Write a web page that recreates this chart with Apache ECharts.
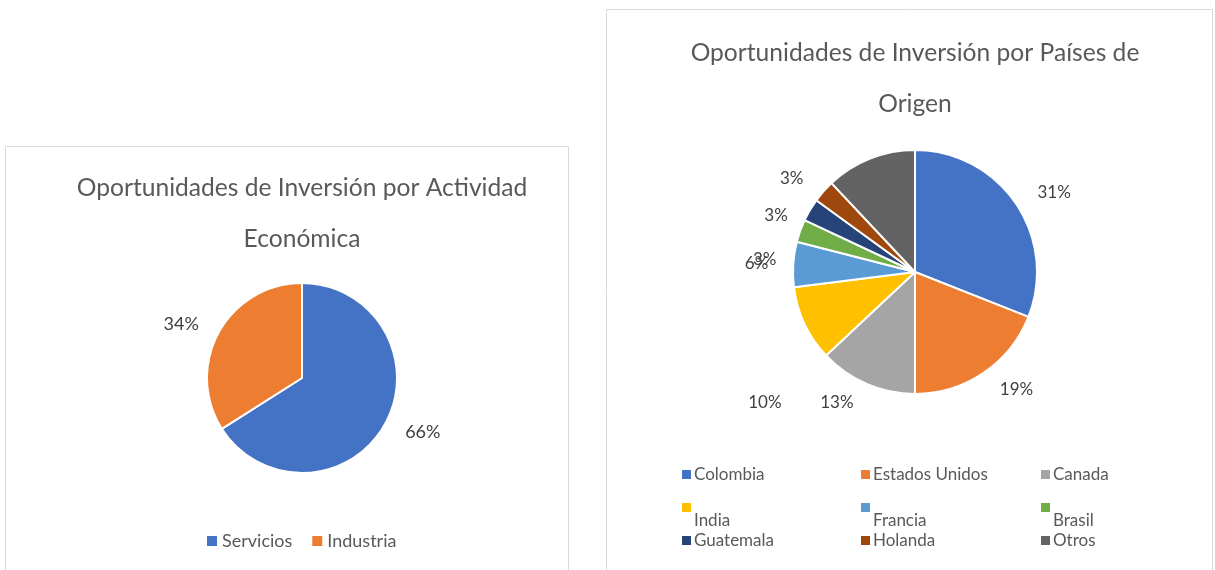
<!DOCTYPE html>
<html>
<head>
<meta charset="utf-8">
<script src="https://cdn.jsdelivr.net/npm/echarts@6/dist/echarts.min.js"></script>
<style>
  html, body { margin: 0; padding: 0; background: #fff; }
  #chart { width: 1215px; height: 570px; }
</style>
</head>
<body>
<div id="chart"></div>
<script>
// datos
const activityNames = ['Servicios', 'Industria']
const activityValues = [66, 34]
const countryNames = ['Colombia', 'Estados Unidos', 'Canada', 'India', 'Francia', 'Brasil', 'Guatemala', 'Holanda', 'Otros']
const countryValues = [31, 19, 13, 10, 6, 3, 3, 3, 12]
const hiddenLabels = ['Otros']

const palette = ['#4472C4', '#ED7D31', '#A5A5A5', '#FFC000', '#5B9BD5', '#70AD47', '#264478', '#9E480E', '#636363']
const FONT = 'Lato, "Open Sans", sans-serif'
const textGrey = '#595959'

// Excel movió algunas etiquetas para que no se pisen
const labelShift = { India: 70, Brasil: 36, Guatemala: 16 }

const chart = echarts.init(document.getElementById('chart'))

// leyenda de países en rejilla 3x3 (la fila del medio lleva el texto más abajo que el cuadrito)
const colX = [677, 856, 1036]
const rowY = [461, 498, 527]
const countryLegends = countryNames.map((name, i) => {
  const row = Math.floor(i / 3)
  return {
    data: [name],
    left: colX[i % 3],
    top: rowY[row],
    icon: 'rect',
    itemWidth: 9,
    itemHeight: 9,
    itemGap: 0,
    selectedMode: false,
    itemStyle: { borderWidth: 0 },
    formatter: n => '{t|' + n + '}',
    textStyle: {
      rich: {
        t: {
          fontFamily: FONT,
          fontSize: 17,
          color: textGrey,
          padding: row === 1 ? [26, 0, 0, -2] : [0, 0, 0, -2]
        }
      }
    }
  }
})

const option = {
  animation: false,
  graphic: [
    { type: 'rect', shape: { x: 5.5, y: 146.5, width: 563, height: 440 }, style: { fill: 'none', stroke: '#d9d9d9', lineWidth: 1 } },
    { type: 'rect', shape: { x: 606.5, y: 9.5, width: 606, height: 580 }, style: { fill: 'none', stroke: '#d9d9d9', lineWidth: 1 } }
  ],
  title: [
    {
      text: 'Oportunidades de Inversión por Actividad\nEconómica',
      left: 297,
      top: 158,
      textAlign: 'center',
      textStyle: { fontFamily: FONT, fontSize: 24.6, fontWeight: 'normal', color: textGrey, lineHeight: 51 }
    },
    {
      text: 'Oportunidades de Inversión por Países de\nOrigen',
      left: 910,
      top: 23,
      textAlign: 'center',
      textStyle: { fontFamily: FONT, fontSize: 24.6, fontWeight: 'normal', color: textGrey, lineHeight: 51 }
    }
  ],
  legend: [
    {
      data: activityNames,
      left: 202,
      top: 527,
      icon: 'rect',
      itemWidth: 10,
      itemHeight: 10,
      itemGap: 20,
      selectedMode: false,
      itemStyle: { borderWidth: 0 },
      textStyle: { fontFamily: FONT, fontSize: 18, color: textGrey }
    },
    ...countryLegends
  ],
  series: [
    {
      name: 'Actividad',
      type: 'pie',
      center: [302, 378],
      radius: 95,
      startAngle: 90,
      itemStyle: { borderColor: '#fff', borderWidth: 2 },
      label: {
        show: true,
        position: 'outside',
        formatter: p => Math.round(p.percent) + '%',
        fontFamily: FONT,
        fontSize: 18,
        color: '#404040'
      },
      labelLine: { show: false, length: 17, length2: 0 },
      data: activityNames.map((n, i) => ({
        name: n,
        value: activityValues[i],
        itemStyle: { color: palette[i] }
      }))
    },
    {
      name: 'Países',
      type: 'pie',
      center: [915, 272],
      radius: 122,
      startAngle: 90,
      avoidLabelOverlap: false,
      itemStyle: { borderColor: '#fff', borderWidth: 2 },
      label: {
        show: true,
        position: 'outside',
        formatter: p => Math.round(p.percent) + '%',
        fontFamily: FONT,
        fontSize: 17,
        color: '#404040'
      },
      labelLine: { show: false, length: 20, length2: 0 },
      labelLayout: p => ({ dy: labelShift[countryNames[p.dataIndex]] || 0 }),
      data: countryNames.map((n, i) => ({
        name: n,
        value: countryValues[i],
        itemStyle: { color: palette[i] },
        label: { show: hiddenLabels.indexOf(n) < 0 }
      }))
    }
  ]
}

chart.setOption(option)
window.addEventListener('resize', () => chart.resize())
</script>
</body>
</html>
